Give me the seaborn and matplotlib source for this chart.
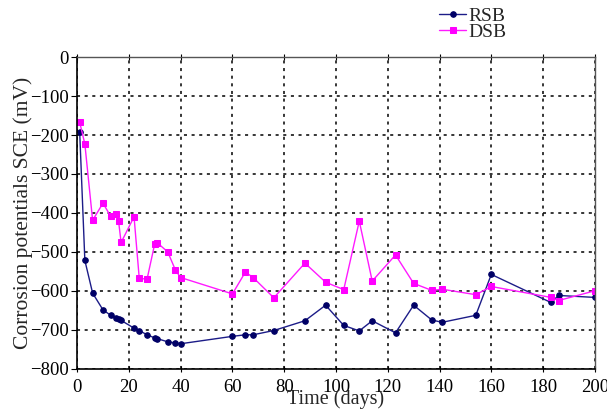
import numpy as np
import pandas as pd
import matplotlib
matplotlib.use("Agg")
import matplotlib.pyplot as plt
import seaborn as sns

# values
days = [1, 3, 6, 10, 13, 15, 16, 17, 22, 24, 27, 30, 31, 35, 38, 40, 60, 65, 68,
        76, 88, 96, 103, 109, 114, 123, 130, 137, 141, 154, 160, 183, 186, 200]
rsb = [-192, -522, -606, -649, -663, -669, -673, -676, -696, -702, -713, -721, -723,
       -731, -734, -736, -717, -713, -713, -702, -677, -637, -689, -703, -677, -708,
       -637, -675, -681, -663, -558, -630, -612, -617]
dsb = [-167, -223, -419, -375, -409, -403, -420, -476, -410, -567, -571, -479, -477,
       -500, -547, -566, -608, -552, -566, -618, -529, -578, -597, -421, -575, -508,
       -581, -599, -596, -610, -589, -617, -625, -600]
x_ticks = list(range(0, 201, 20))
y_ticks = list(range(-800, 1, 100))

df = pd.DataFrame({"Time": days, "RSB": rsb, "DSB": dsb})

sns.set_style("ticks")
plt.rcParams["font.family"] = ["Liberation Serif", "DejaVu Serif"]

fig = plt.figure(figsize=(6.07, 4.11), dpi=100)
ax = fig.add_axes([0.127, 0.103, 0.853, 0.758])

sns.lineplot(data=df, x="Time", y="RSB", ax=ax, color="#1c1c88", lw=1.0,
             marker="o", markersize=4, markerfacecolor="#000066",
             markeredgecolor="#000066", label="RSB", sort=False)
sns.lineplot(data=df, x="Time", y="DSB", ax=ax, color="#ff1aff", lw=1.0,
             marker="s", markersize=4.3, markerfacecolor="#ff00ff",
             markeredgecolor="#ff00ff", label="DSB", sort=False)

ax.set_xlim(0, 200)
ax.set_ylim(-800, 0)
ax.set_xticks(x_ticks)
ax.set_yticks(y_ticks)
ax.grid(True, color="black", linestyle=(0, (2, 3)), linewidth=1.1)
ax.tick_params(axis="both", labelsize=13.5, colors="black")
ax.tick_params(axis="x", direction="inout", top=True, length=5, pad=5)
ax.tick_params(axis="y", direction="out", length=4, pad=2)

for s in ["left", "bottom"]:
    ax.spines[s].set_color("black")
    ax.spines[s].set_linewidth(1.2)
for s in ["top", "right"]:
    ax.spines[s].set_color("#555555")
    ax.spines[s].set_linewidth(1.0)

ax.set_xlabel("Time (days)", fontsize=14.5, labelpad=-5)
ax.set_ylabel("Corrosion potentials SCE (mV)", fontsize=15.5, labelpad=-2)

ax.legend(loc="upper left", bbox_to_anchor=(0.68, 1.19), frameon=False,
          fontsize=14, handlelength=1.4, handletextpad=0.1,
          labelspacing=-0.1, borderpad=0)

fig.savefig("out.png", dpi=100)
